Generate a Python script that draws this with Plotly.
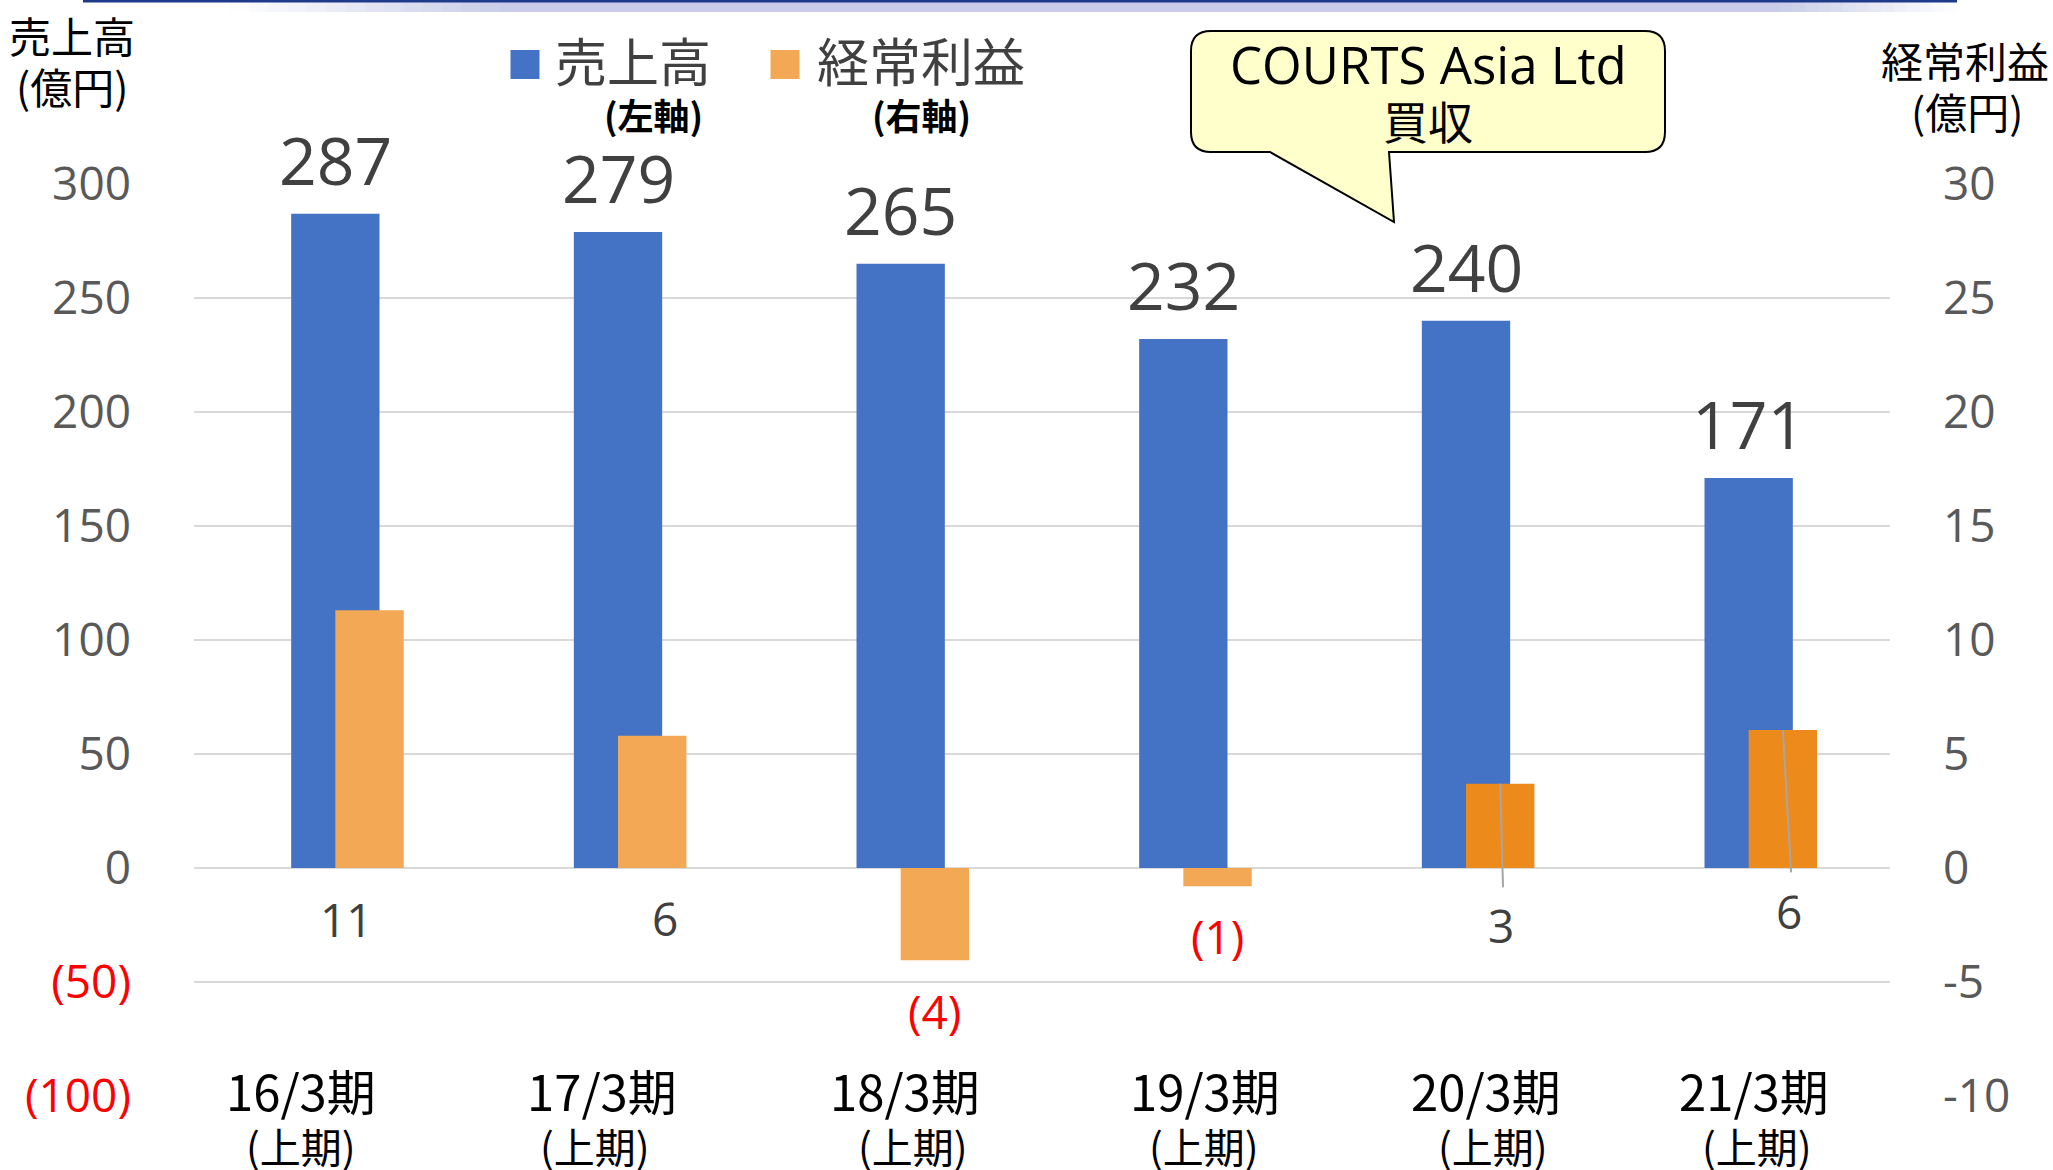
import plotly.graph_objects as go

# ---------------- data ----------------
CATEGORIES = ["16/3期", "17/3期", "18/3期", "19/3期", "20/3期", "21/3期"]
PERIOD_NOTE = ["(上期)", "(上期)", "(上期)", "(上期)", "(上期)", "(上期)"]
SALES = [287, 279, 265, 232, 240, 171]                 # 売上高 (億円, left axis)
PROFIT = [11.3, 5.8, -4.05, -0.8, 3.7, 6.05]           # 経常利益 (億円, right axis)
PROFIT_LABELS = ["11", "6", "(4)", "(1)", "3", "6"]
SALES_LABELS = ["287", "279", "265", "232", "240", "171"]
LEFT_TICKS = [300, 250, 200, 150, 100, 50, 0, -50, -100]
LEFT_TICKTEXT = ["300", "250", "200", "150", "100", "50", "0", "(50)", "(100)"]
RIGHT_TICKS = [30, 25, 20, 15, 10, 5, 0, -5, -10]
RIGHT_TICKTEXT = ["30", "25", "20", "15", "10", "5", "0", "-5", "-10"]
CALLOUT_TEXT = ["COURTS Asia Ltd", "買収"]

# ---------------- styles / positions ----------------
W, H = 2053, 1170
ML, MR, MT, MB = 194, 163, 184, 74
PW, PH = W - ML - MR, H - MT - MB

BLUE = "#4472C4"
ORANGE_COLORS = ["#F2A854", "#F2A854", "#F2A854", "#F2A854", "#EC8A1C", "#EC8A1C"]
BLUE_W = 0.3125
ORANGE_W = 0.242
TICK_GRAY = "#595959"
LABEL_GRAY = "#404040"
RED = "#FF0000"
NUM_FONT = "Open Sans, Noto Sans CJK JP, sans-serif"
CJK_FONT = "Noto Sans CJK JP, sans-serif"

PROFIT_LABEL_DX = [0.041, 0.166, 0.12, 0.12, 0.124, 0.143]
PROFIT_LABEL_Y = [-2.22, -2.21, -6.26, -2.97, -2.5, -1.9]
LEADERS = {4: (0.131, -0.85), 5: (0.150, -0.19)}
CAT_DX = [-0.12, -0.057, 0.014, 0.078, 0.071, 0.018]
NOTE_DX = [-0.12, -0.081, 0.044, 0.074, 0.096, 0.03]


def px(x):
    return (x - ML) / PW


def py(y):
    return (MT + PH - y) / PH


xs = list(range(len(CATEGORIES)))

fig = go.Figure()
fig.add_trace(go.Bar(
    x=xs, y=SALES, width=BLUE_W, offset=-BLUE_W / 2,
    marker=dict(color=BLUE, line=dict(width=0)), name="売上高",
    yaxis="y", showlegend=False, hoverinfo="skip"))
fig.add_trace(go.Bar(
    x=xs, y=PROFIT, width=ORANGE_W, offset=0,
    marker=dict(color=ORANGE_COLORS, line=dict(width=0)), name="経常利益",
    yaxis="y2", showlegend=False, hoverinfo="skip"))

# leader lines of data labels
for i, (dx, yend) in LEADERS.items():
    fig.add_trace(go.Scatter(
        x=[i + ORANGE_W / 2, i + dx], y=[PROFIT[i], yend], mode="lines",
        line=dict(color="#A6A6A6", width=2), yaxis="y2",
        showlegend=False, hoverinfo="skip"))

ann = []
# sales labels
for i, (v, t) in enumerate(zip(SALES, SALES_LABELS)):
    ann.append(dict(x=i, y=v, xref="x", yref="y", text=t, showarrow=False,
                    yanchor="middle", yshift=55,
                    font=dict(family=NUM_FONT, size=66, color=LABEL_GRAY)))
# profit labels
for i, t in enumerate(PROFIT_LABELS):
    col = RED if PROFIT[i] < 0 else LABEL_GRAY
    ann.append(dict(x=i + PROFIT_LABEL_DX[i], y=PROFIT_LABEL_Y[i], xref="x", yref="y2",
                    text=t, showarrow=False, yanchor="middle",
                    font=dict(family=NUM_FONT, size=46, color=col)))
# category labels
for i, (c, n) in enumerate(zip(CATEGORIES, PERIOD_NOTE)):
    ann.append(dict(x=i + CAT_DX[i], y=py(1089), xref="x", yref="paper", text=c,
                    showarrow=False, yanchor="middle",
                    font=dict(family=CJK_FONT, size=49, color="#000000")))
    ann.append(dict(x=i + NOTE_DX[i], y=py(1145), xref="x", yref="paper", text=n,
                    showarrow=False, yanchor="middle",
                    font=dict(family=CJK_FONT, size=41, color="#000000")))

# axis titles
ann.append(dict(x=px(72), y=py(34), xref="paper", yref="paper", text="売上高",
                showarrow=False, yanchor="middle", xanchor="center",
                font=dict(family=CJK_FONT, size=42, color="#000000")))
ann.append(dict(x=px(72), y=py(85), xref="paper", yref="paper", text="(億円)",
                showarrow=False, yanchor="middle", xanchor="center",
                font=dict(family=CJK_FONT, size=42, color="#000000")))
ann.append(dict(x=px(1965), y=py(60), xref="paper", yref="paper", text="経常利益",
                showarrow=False, yanchor="middle", xanchor="center",
                font=dict(family=CJK_FONT, size=42, color="#000000")))
ann.append(dict(x=px(1967), y=py(111), xref="paper", yref="paper", text="(億円)",
                showarrow=False, yanchor="middle", xanchor="center",
                font=dict(family=CJK_FONT, size=42, color="#000000")))

# legend (manual)
ann.append(dict(x=px(633), y=py(60), xref="paper", yref="paper", text="売上高",
                showarrow=False, yanchor="middle", xanchor="center",
                font=dict(family=CJK_FONT, size=52, color=LABEL_GRAY)))
ann.append(dict(x=px(921), y=py(60), xref="paper", yref="paper", text="経常利益",
                showarrow=False, yanchor="middle", xanchor="center",
                font=dict(family=CJK_FONT, size=52, color=LABEL_GRAY)))
ann.append(dict(x=px(653), y=py(114), xref="paper", yref="paper", text="(左軸)",
                showarrow=False, yanchor="middle", xanchor="center",
                font=dict(family=CJK_FONT, size=36, color="#000000", weight="bold")))
ann.append(dict(x=px(921), y=py(114), xref="paper", yref="paper", text="(右軸)",
                showarrow=False, yanchor="middle", xanchor="center",
                font=dict(family=CJK_FONT, size=36, color="#000000", weight="bold")))

# callout text
ann.append(dict(x=px(1428), y=py(64), xref="paper", yref="paper", text=CALLOUT_TEXT[0],
                showarrow=False, yanchor="middle", xanchor="center",
                font=dict(family=NUM_FONT, size=51, color="#000000")))
ann.append(dict(x=px(1428), y=py(120), xref="paper", yref="paper", text=CALLOUT_TEXT[1],
                showarrow=False, yanchor="middle", xanchor="center",
                font=dict(family=CJK_FONT, size=45, color="#000000")))

shapes = []
# legend squares
for cx, col in [(525, BLUE), (785, "#F2A854")]:
    shapes.append(dict(type="rect", xref="paper", yref="paper",
                       x0=px(cx - 14.5), x1=px(cx + 14.5), y0=py(64.5 + 14.5), y1=py(64.5 - 14.5),
                       fillcolor=col, line=dict(width=0)))

# callout bubble
L, R, T, B, r = 1191, 1665, 31, 152, 20


def P(x, y):
    return f"{px(x):.5f},{py(y):.5f}"


path = (f"M{P(L + r, T)} L{P(R - r, T)} Q{P(R, T)} {P(R, T + r)} "
        f"L{P(R, B - r)} Q{P(R, B)} {P(R - r, B)} L{P(1389, B)} L{P(1394, 222)} "
        f"L{P(1270, B)} L{P(L + r, B)} Q{P(L, B)} {P(L, B - r)} L{P(L, T + r)} "
        f"Q{P(L, T)} {P(L + r, T)} Z")
shapes.append(dict(type="path", xref="paper", yref="paper", path=path,
                   fillcolor="#FFFFCC", line=dict(color="#000000", width=2), layer="below"))


# top decorative band
def mix(c1, c2, t):
    a = [int(c1[k:k + 2], 16) for k in (1, 3, 5)]
    b = [int(c2[k:k + 2], 16) for k in (1, 3, 5)]
    return "#" + "".join(f"{round(a[j] + (b[j] - a[j]) * t):02X}" for j in range(3))


LAV = "#C9CDE9"
steps = 14
for k in range(steps):
    x0 = 230 + (500 - 230) * k / steps
    x1 = 230 + (500 - 230) * (k + 1) / steps
    shapes.append(dict(type="rect", xref="paper", yref="paper", x0=px(x0), x1=px(x1 + 1),
                       y0=py(12), y1=py(1), fillcolor=mix("#FFFFFF", LAV, (k + 0.5) / steps),
                       line=dict(width=0)))
shapes.append(dict(type="rect", xref="paper", yref="paper", x0=px(500), x1=px(1780),
                   y0=py(12), y1=py(1), fillcolor=LAV, line=dict(width=0)))
for k in range(steps):
    x0 = 1780 + (1957 - 1780) * k / steps
    x1 = 1780 + (1957 - 1780) * (k + 1) / steps
    shapes.append(dict(type="rect", xref="paper", yref="paper", x0=px(x0), x1=px(x1 + 1),
                       y0=py(12), y1=py(1), fillcolor=mix(LAV, "#FFFFFF", (k + 0.5) / steps),
                       line=dict(width=0)))
shapes.append(dict(type="line", xref="paper", yref="paper", x0=px(83), x1=px(1957),
                   y0=py(1), y1=py(1), line=dict(color="#1F3A8A", width=3)))

left_ticktext = [f"<span style='color:{RED}'>{t}</span>" if v < 0 else t
                 for v, t in zip(LEFT_TICKS, LEFT_TICKTEXT)]

fig.update_layout(
    width=W, height=H,
    margin=dict(l=ML, r=MR, t=MT, b=MB, pad=0),
    paper_bgcolor="white", plot_bgcolor="white",
    barmode="overlay", showlegend=False,
    xaxis=dict(range=[-0.5, len(CATEGORIES) - 0.5], showticklabels=False,
               showgrid=False, zeroline=False, showline=False, ticks=""),
    yaxis=dict(range=[-100, 300], tickvals=LEFT_TICKS, ticktext=left_ticktext,
               showgrid=True, gridcolor="#D9D9D9", gridwidth=2,
               zeroline=True, zerolinecolor="#D9D9D9", zerolinewidth=2,
               showline=False, ticks="", ticklabelstandoff=62,
               tickfont=dict(family=NUM_FONT, size=46, color=TICK_GRAY)),
    yaxis2=dict(range=[-10, 30], tickvals=RIGHT_TICKS, ticktext=RIGHT_TICKTEXT,
                overlaying="y", side="right", showgrid=False, zeroline=False,
                showline=False, ticks="", ticklabelstandoff=52,
                tickfont=dict(family=NUM_FONT, size=46, color=TICK_GRAY)),
    annotations=ann, shapes=shapes,
)

fig.write_html("out.html", config={"displayModeBar": False},
               post_script="document.body.style.margin='0';document.body.style.overflow='hidden';")
